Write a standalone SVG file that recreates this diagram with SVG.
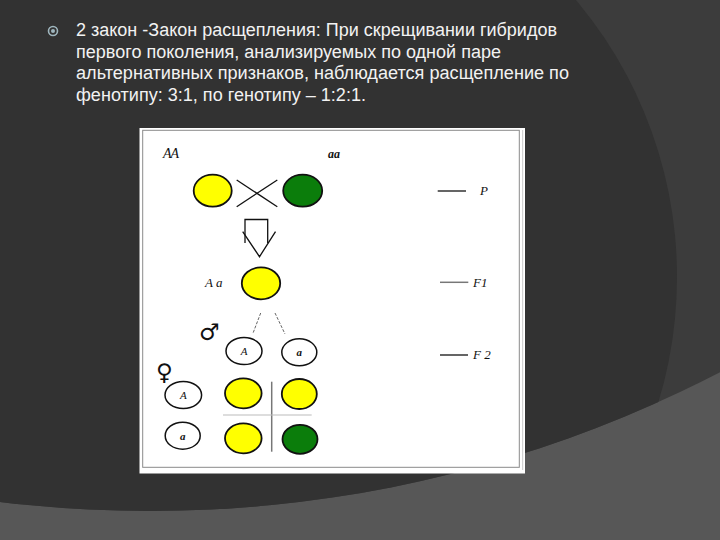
<svg xmlns="http://www.w3.org/2000/svg" width="720" height="540" viewBox="0 0 720 540">
<defs>
<style>
.txt{font-family:"Liberation Sans",Arial,sans-serif;font-size:18px;fill:#f2f2f2}
.lbl{font-family:"Liberation Serif","Times New Roman",serif;font-style:italic;fill:#111}
.yel{fill:#ffff00;stroke:#111;stroke-width:1.8}
.grn{fill:#0b7d0b;stroke:#111;stroke-width:1.8}
.gam{fill:#fff;stroke:#111;stroke-width:1.5}
.ln{stroke:#111;stroke-width:1.3;fill:none}
.sym{font-family:"DejaVu Sans",sans-serif;fill:#111}
</style>
<clipPath id="bigc"><circle cx="150" cy="-730" r="1241"/></clipPath>
</defs>
<!-- background -->
<rect x="0" y="0" width="720" height="540" fill="#575757"/>
<circle cx="150" cy="-730" r="1241" fill="#3c3c3c"/>
<circle cx="247" cy="277" r="430" fill="#323232" clip-path="url(#bigc)"/>
<!-- bullet -->
<g id="bullet">
<circle cx="53" cy="31" r="4.5" fill="none" stroke="#9fb6be" stroke-width="1.6"/>
<circle cx="53" cy="31" r="2" fill="#9fb6be"/>
</g>
<g id="heading">
<text class="txt" x="76" y="36" textLength="481" lengthAdjust="spacingAndGlyphs">2 закон -Закон расщепления: При скрещивании гибридов</text>
<text class="txt" x="76" y="57.5" textLength="425" lengthAdjust="spacingAndGlyphs">первого поколения, анализируемых по одной паре</text>
<text class="txt" x="76" y="79" textLength="493" lengthAdjust="spacingAndGlyphs">альтернативных признаков, наблюдается расщепление по</text>
<text class="txt" x="76" y="100.5" textLength="290" lengthAdjust="spacingAndGlyphs">фенотипу: 3:1, по генотипу – 1:2:1.</text>
</g>
<!-- white panel -->
<g id="panel">
<rect x="139.5" y="128" width="385.5" height="345.5" fill="#ffffff"/>
<rect x="142.7" y="130.3" width="376.6" height="337" fill="none" stroke="#8a8a8a" stroke-width="1"/>
<line x1="522.7" y1="130" x2="522.7" y2="470" stroke="#c8c8c8" stroke-width="1"/>
</g>
<!-- connectors -->
<g id="connectors">
<line class="ln" x1="236.7" y1="180" x2="277.3" y2="206.7"/>
<line class="ln" x1="236.7" y1="206.7" x2="277.3" y2="180"/>
<path class="ln" d="M245,243 V219.5 H267.7 V243"/>
<path class="ln" d="M242.7,231.7 L259.5,256.7 L275.5,231.7"/>
<line x1="260.7" y1="313" x2="252.7" y2="334" stroke="#666" stroke-width="1" stroke-dasharray="3,1.5"/>
<line x1="275" y1="313" x2="285" y2="334" stroke="#666" stroke-width="1" stroke-dasharray="3,1.5"/>
<line x1="271.7" y1="381.7" x2="271.7" y2="451.7" stroke="#777" stroke-width="1.5"/>
<line x1="223" y1="415" x2="311.7" y2="415" stroke="#bbb" stroke-width="1"/>
</g>
<!-- P generation -->
<g id="parent-AA">
<text class="lbl" x="163" y="158" font-size="14" letter-spacing="-1">AA</text>
<ellipse class="yel" cx="212.7" cy="190.7" rx="19" ry="16"/>
</g>
<g id="parent-aa">
<text class="lbl" x="328" y="158" font-size="12" font-weight="bold">aa</text>
<ellipse class="grn" cx="302.7" cy="190.7" rx="19.5" ry="16"/>
</g>
<g id="level-P">
<line x1="437.7" y1="191" x2="466" y2="191" stroke="#111" stroke-width="1.3"/>
<text class="lbl" x="480" y="195" font-size="13">P</text>
</g>
<!-- F1 -->
<g id="f1-Aa">
<text class="lbl" x="205" y="287" font-size="13">A a</text>
<ellipse class="yel" cx="261" cy="283.3" rx="19.2" ry="16"/>
</g>
<g id="level-F1">
<line x1="440" y1="282.3" x2="468.3" y2="282.3" stroke="#777" stroke-width="1.5"/>
<text class="lbl" x="473" y="286.5" font-size="13">F1</text>
</g>
<!-- gametes male -->
<g id="male">
<text class="sym" x="199" y="340" font-size="23">♂</text>
</g>
<g id="gamete-m-A">
<ellipse class="gam" cx="244" cy="351" rx="18" ry="13.5"/>
<text class="lbl" x="244" y="355" font-size="11" text-anchor="middle">A</text>
</g>
<g id="gamete-m-a">
<ellipse class="gam" cx="299.3" cy="352.3" rx="17.5" ry="13.5"/>
<text class="lbl" x="299.3" y="356" font-size="11" text-anchor="middle" font-weight="bold">a</text>
</g>
<g id="level-F2">
<line x1="440" y1="355" x2="468" y2="355" stroke="#111" stroke-width="1.3"/>
<text class="lbl" x="473" y="359" font-size="13">F 2</text>
</g>
<!-- gametes female -->
<g id="female">
<text class="sym" x="156" y="380" font-size="23">♀</text>
</g>
<g id="gamete-f-A">
<ellipse class="gam" cx="183.3" cy="395" rx="18.3" ry="13.5"/>
<text class="lbl" x="183.3" y="399" font-size="11" text-anchor="middle">A</text>
</g>
<g id="gamete-f-a">
<ellipse class="gam" cx="182.7" cy="435.7" rx="17.5" ry="13.5"/>
<text class="lbl" x="182.7" y="439.5" font-size="11" text-anchor="middle" font-weight="bold">a</text>
</g>
<!-- Punnett offspring -->
<g id="f2-AA"><ellipse class="yel" cx="243.3" cy="393.3" rx="18.3" ry="15"/></g>
<g id="f2-Aa-1"><ellipse class="yel" cx="299.3" cy="394" rx="17.5" ry="15"/></g>
<g id="f2-Aa-2"><ellipse class="yel" cx="243.3" cy="438.3" rx="18.3" ry="15"/></g>
<g id="f2-aa"><ellipse class="grn" cx="300" cy="439.3" rx="17.5" ry="14.5"/></g>
</svg>
